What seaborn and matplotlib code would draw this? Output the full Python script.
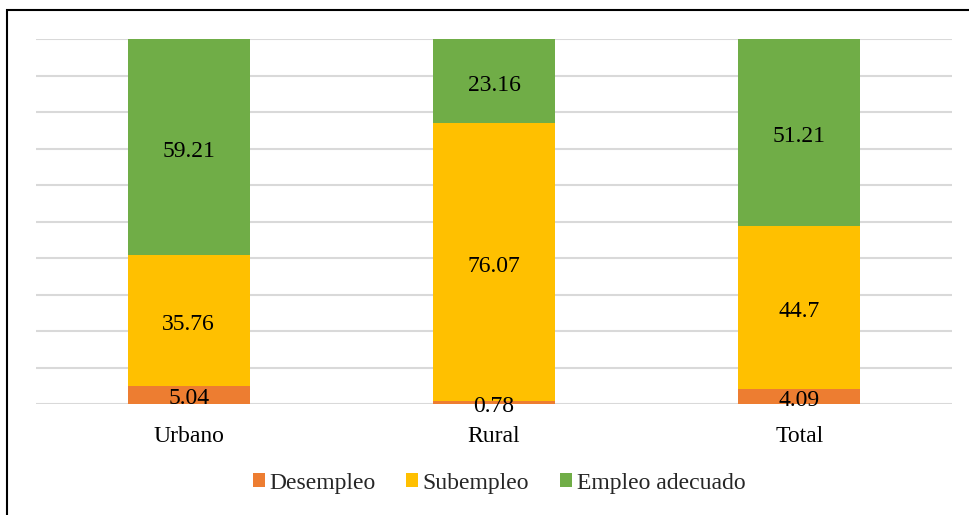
import matplotlib
matplotlib.use("Agg")
import matplotlib.pyplot as plt
from matplotlib.patches import Patch, Rectangle
import seaborn as sns
import numpy as np

categories = ["Urbano", "Rural", "Total"]
desempleo = [5.04, 0.78, 4.09]
subempleo = [35.76, 76.07, 44.7]
empleo_adecuado = [59.21, 23.16, 51.21]
series_names = ["Desempleo", "Subempleo", "Empleo adecuado"]
colors = ["#ED7D31", "#FFC000", "#70AD47"]

sns.set_theme(style="white")
plt.rcParams["font.family"] = ["Liberation Serif", "DejaVu Serif"]

fig = plt.figure(figsize=(9.69, 5.15), dpi=100)
ax = fig.add_axes([36 / 969, 1 - 404 / 515, (952 - 36) / 969, (404 - 39) / 515])

bottom = np.zeros(len(categories))
for name, vals, col in zip(series_names, [desempleo, subempleo, empleo_adecuado], colors):
    sns.barplot(x=categories, y=vals, bottom=bottom, color=col, width=0.4,
                saturation=1, ax=ax, zorder=3, linewidth=0)
    cont = ax.containers[-1]
    anns = ax.bar_label(cont, labels=[f"{v:g}" for v in vals], label_type="center",
                        fontsize=17, color="black", zorder=4)
    for a in anns:
        a.xyann = (0, -3)
    bottom = bottom + np.array(vals)

ax.set_ylim(0, 100)
ax.set_yticks(np.arange(0, 101, 10))
ax.set_yticklabels([])
ax.yaxis.grid(True, color="#D9D9D9", linewidth=1.5, zorder=0)
ax.set_axisbelow(True)
for s in ax.spines.values():
    s.set_visible(False)
ax.tick_params(axis="x", length=0, pad=16, labelsize=17, colors="black")
ax.tick_params(axis="y", length=0)
ax.set_xlabel("")
ax.set_ylabel("")

handles = [Patch(facecolor=c, edgecolor="none", label=n) for n, c in zip(series_names, colors)]
fig.legend(handles=handles, loc="center", bbox_to_anchor=(499 / 969, 1 - 483 / 515),
           ncol=3, frameon=False, fontsize=17, handlelength=0.5, handleheight=0.5,
           handletextpad=0.2, columnspacing=1.3)

fig.patches.append(Rectangle((7 / 969, -0.1), 1.2, 0.1 + 1 - 10 / 515,
                             transform=fig.transFigure, fill=False,
                             edgecolor="black", linewidth=1.5))

fig.savefig("out.png", dpi=100)
